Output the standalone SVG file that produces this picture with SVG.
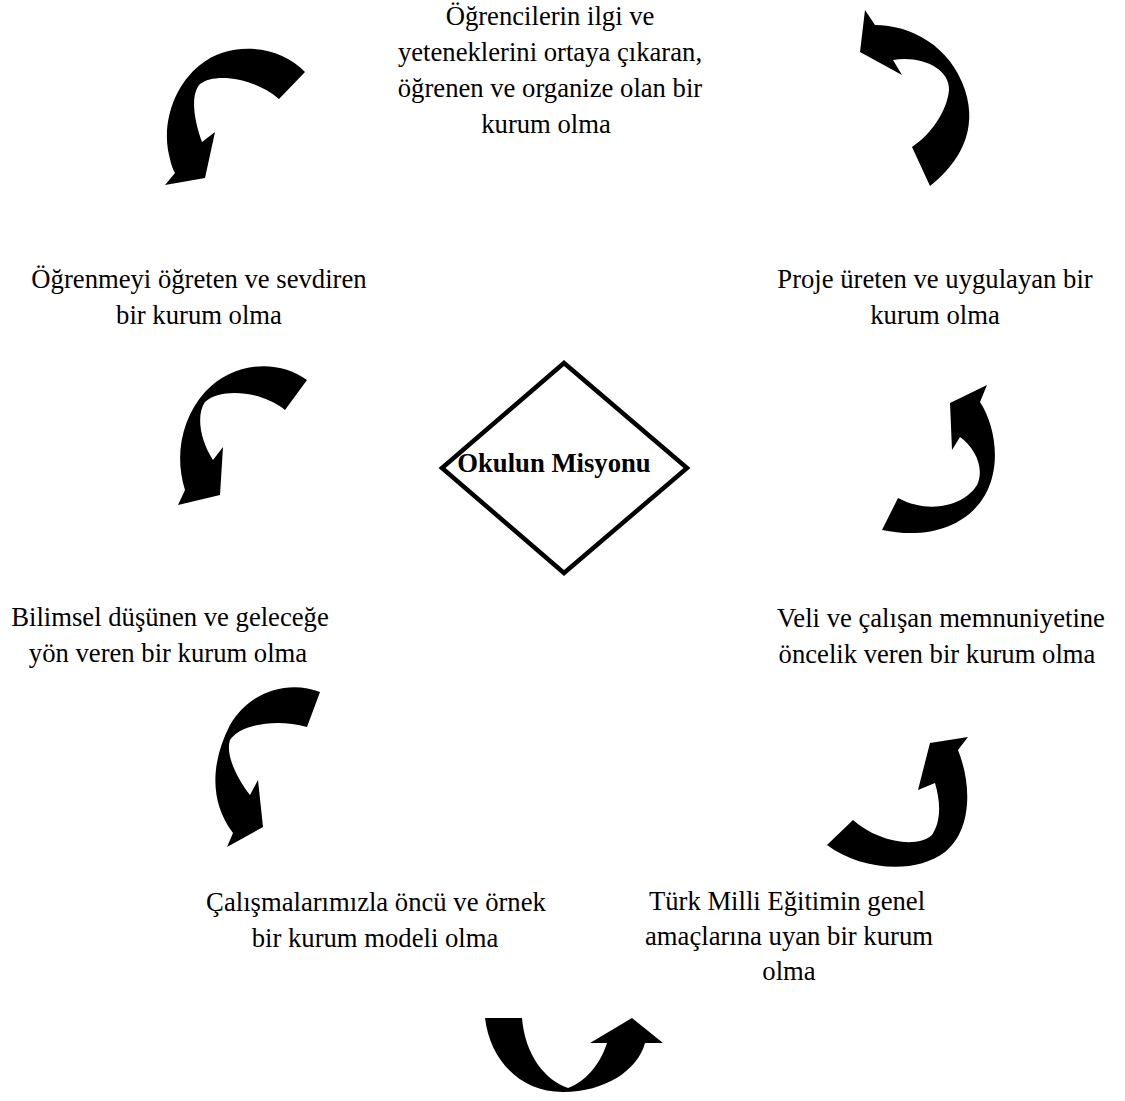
<svg xmlns="http://www.w3.org/2000/svg" width="1125" height="1101" viewBox="0 0 1125 1101">
  <style>
    .lbl { font-family: "Liberation Serif", "Times New Roman", serif; font-size: 26.67px; fill: #000; text-anchor: middle; }
    .title { font-family: "Liberation Serif", "Times New Roman", serif; font-size: 26.67px; font-weight: bold; fill: #000; text-anchor: middle; }
    .arrow { fill: #000; stroke: none; }
  </style>
  <rect width="1125" height="1101" fill="#fff"/>

  <!-- curved block arrows -->
  <g id="connectors">
    <path class="arrow" d="M305,72 C280,45 230,40 200,65 C175,85 163,120 168,150 C170,160 172,168 175,173 L165,185 L205,178 L215,132 L202,142 C194,120 190,95 200,84 C215,72 255,78 279,99 Z"/>
    <path class="arrow" d="M865,10 L875,25 C910,25 950,45 965,90 C978,130 960,162 930,186 L912,147 C930,135 947,112 949,90 C950,68 920,55 893,60 L902,75 L860,52 Z"/>
    <path class="arrow" d="M307,380 C280,360 235,360 205,392 C182,418 174,455 185,490 L178,505 L220,495 L223,447 L213,460 C200,440 196,415 205,402 C220,388 260,390 285,410 Z"/>
    <path class="arrow" d="M987,385 L980,402 C995,425 1002,465 985,495 C968,525 930,540 882,530 L898,498 C930,515 965,505 977,485 C985,468 975,448 960,437 L952,450 L950,403 Z"/>
    <path class="arrow" d="M320,692 C290,680 250,690 230,725 C212,760 208,800 233,833 L227,847 L263,827 L258,780 L250,795 C238,780 225,755 230,740 C240,725 275,718 307,727 Z"/>
    <path class="arrow" d="M968,737 L958,750 C972,785 972,830 945,852 C915,875 860,870 827,845 L853,820 C875,840 915,850 932,835 C942,820 940,800 935,783 L918,790 L930,743 Z"/>
    <path class="arrow" d="M485,1018 C490,1060 520,1092 563,1092 C605,1092 638,1070 645,1043 L663,1043 L632,1018 L590,1043 L607,1043 C600,1065 585,1082 568,1088 C545,1080 525,1055 522,1018 Z"/>
  </g>

  <!-- central mission node -->
  <g id="mission">
    <polygon points="564,363 687,468 564,573 442,468" fill="#fff" stroke="#000" stroke-width="4.5"/>
    <text class="title" x="554" y="472">Okulun Misyonu</text>
  </g>

  <g id="item-top">
    <text class="lbl" x="550" y="25">Öğrencilerin ilgi ve</text>
    <text class="lbl" x="550" y="61">yeteneklerini ortaya çıkaran,</text>
    <text class="lbl" x="550" y="97">öğrenen ve organize olan bir</text>
    <text class="lbl" x="546" y="133">kurum olma</text>
  </g>

  <g id="item-project">
    <text class="lbl" x="935" y="288">Proje üreten ve uygulayan bir</text>
    <text class="lbl" x="935" y="324">kurum olma</text>
  </g>

  <g id="item-learning">
    <text class="lbl" x="199" y="288">Öğrenmeyi öğreten ve sevdiren</text>
    <text class="lbl" x="199" y="324">bir kurum olma</text>
  </g>

  <g id="item-satisfaction">
    <text class="lbl" x="941" y="627">Veli ve çalışan memnuniyetine</text>
    <text class="lbl" x="937" y="663">öncelik veren bir kurum olma</text>
  </g>

  <g id="item-science">
    <text class="lbl" x="170" y="626">Bilimsel düşünen ve geleceğe</text>
    <text class="lbl" x="168" y="662">yön veren bir kurum olma</text>
  </g>

  <g id="item-pioneer">
    <text class="lbl" x="376" y="911">Çalışmalarımızla öncü ve örnek</text>
    <text class="lbl" x="375" y="947">bir kurum modeli olma</text>
  </g>

  <g id="item-national">
    <text class="lbl" x="787" y="910">Türk Milli Eğitimin genel</text>
    <text class="lbl" x="789" y="945">amaçlarına uyan bir kurum</text>
    <text class="lbl" x="789" y="980">olma</text>
  </g>
</svg>
